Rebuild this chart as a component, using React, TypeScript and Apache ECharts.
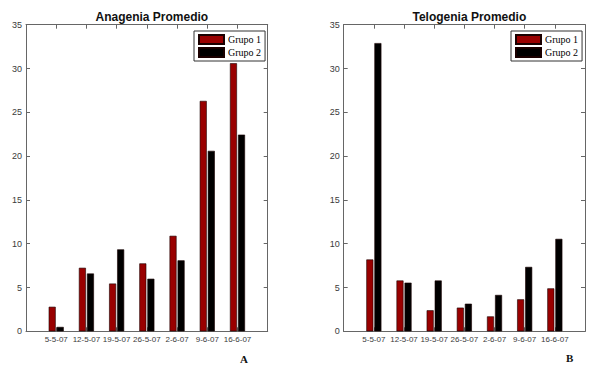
import React, { useEffect, useRef } from "react";
import * as echarts from "echarts";

const categories = ["5-5-07", "12-5-07", "19-5-07", "26-5-07", "2-6-07", "9-6-07", "16-6-07"];
const seriesNames = ["Grupo 1", "Grupo 2"];
const anagenia1 = [2.8, 7.25, 5.45, 7.75, 10.9, 26.3, 30.6];
const anagenia2 = [0.5, 6.6, 9.35, 6.0, 8.1, 20.6, 22.45];
const telogenia1 = [8.2, 5.8, 2.4, 2.7, 1.7, 3.65, 4.9];
const telogenia2 = [32.9, 5.55, 5.8, 3.15, 4.15, 7.35, 10.55];
const titles = ["Anagenia Promedio", "Telogenia Promedio"];
const panelLetters = ["A", "B"];
const yMax = 35;
const yStep = 5;

const colors = ["#990000", "#000000"];
const axisColor = "#666";
const labelColor = "#3a3a3a";
const sans = "'Liberation Sans', Arial, sans-serif";
const serif = "'Liberation Serif', 'Times New Roman', serif";

export default function App() {
  const ref = useRef<HTMLDivElement>(null);
  useEffect(() => {
    if (!ref.current) return;
    const chart = echarts.init(ref.current, null, { renderer: "svg" });
    const grids = [
      { left: 26, top: 24.7, width: 241.7, height: 306.6 },
      { left: 343.7, top: 24.7, width: 241.3, height: 306.6 },
    ];
    const xAxes: any[] = [];
    const yAxes: any[] = [];
    grids.forEach((_, gi) => {
      const common = {
        gridIndex: gi,
        axisLine: { show: true, onZero: false, lineStyle: { color: axisColor, width: 1 } },
        axisTick: { show: true, inside: true, length: 4, lineStyle: { color: axisColor } },
        splitLine: { show: false },
      };
      xAxes.push({
        ...common,
        type: "value",
        position: "bottom",
        min: 0,
        max: categories.length + 1,
        interval: 1,
        axisLabel: {
          show: true,
          margin: 4,
          color: labelColor,
          fontSize: 8,
          fontFamily: sans,
          formatter: (v: number) => categories[v - 1] ?? "",
        },
      });
      xAxes.push({
        ...common,
        type: "value",
        position: "top",
        min: 0,
        max: categories.length + 1,
        interval: 1,
        axisLabel: { show: false },
      });
      yAxes.push({
        ...common,
        type: "value",
        position: "left",
        min: 0,
        max: yMax,
        interval: yStep,
        axisLabel: { show: true, margin: 4, color: labelColor, fontSize: 9, fontFamily: sans },
      });
      yAxes.push({
        ...common,
        type: "value",
        position: "right",
        min: 0,
        max: yMax,
        interval: yStep,
        axisLabel: { show: false },
      });
    });
    const panels = [
      [anagenia1, anagenia2],
      [telogenia1, telogenia2],
    ];
    const series: any[] = [];
    panels.forEach((vals, gi) => {
      vals.forEach((arr, si) => {
        series.push({
          type: "bar",
          name: seriesNames[si],
          xAxisIndex: gi * 2,
          yAxisIndex: gi * 2,
          barWidth: 7,
          barGap: "15%",
          itemStyle: { color: colors[si], borderColor: "#1a0000", borderWidth: 0.6 },
          data: arr.map((v, i) => [i + 1, v]),
        });
      });
    });
    const legendBase = {
      orient: "vertical",
      top: 31,
      itemWidth: 25,
      itemHeight: 9,
      itemGap: 2,
      padding: [3, 4, 3, 4],
      borderColor: "#333",
      borderWidth: 1,
      backgroundColor: "#fff",
      icon: "rect",
      data: seriesNames,
      textStyle: { fontFamily: serif, fontSize: 10, color: "#000", padding: [0, 0, 0, -1] },
    };
    chart.setOption({
      animation: false,
      backgroundColor: "#fff",
      title: titles.map((t, i) => ({
        text: t,
        left: grids[i].left + grids[i].width / 2,
        textAlign: "center",
        top: 6,
        textStyle: { fontFamily: sans, fontSize: 12, fontWeight: "bold", color: "#111" },
      })),
      legend: [
        { ...legendBase, left: 194 },
        { ...legendBase, left: 511 },
      ],
      grid: grids.map((g) => ({ ...g, containLabel: false })),
      xAxis: xAxes,
      yAxis: yAxes,
      series,
      graphic: [
        { type: "text", left: 240, top: 353, style: { text: panelLetters[0], font: `bold 11px ${serif}`, fill: "#111" } },
        { type: "text", left: 566, top: 352, style: { text: panelLetters[1], font: `bold 11px ${serif}`, fill: "#111" } },
      ],
    });
    return () => chart.dispose();
  }, []);
  return <div ref={ref} style={{ position: "fixed", left: 0, top: 0, width: 597, height: 372 }} />;
}
